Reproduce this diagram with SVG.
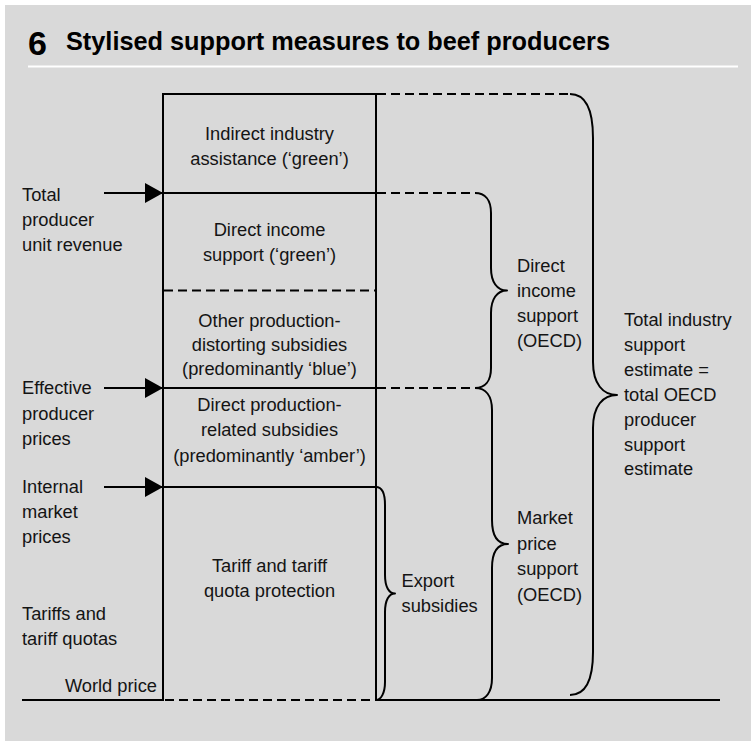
<svg xmlns="http://www.w3.org/2000/svg" width="751" height="741" viewBox="0 0 751 741">
  <style>
    .t { font-family: "Liberation Sans", Arial, sans-serif; font-size: 18.3px; fill: #141414; }
    .c { text-anchor: middle; }
    .ln { stroke: #000; stroke-width: 2; fill: none; }
    .dash { stroke: #000; stroke-width: 2; fill: none; stroke-dasharray: 9 5; }
    .brace { stroke: #000; stroke-width: 2; fill: none; stroke-linejoin: round; }
  </style>
  <defs>
    <marker id="head" markerWidth="18" markerHeight="20" refX="18" refY="10" orient="auto" markerUnits="userSpaceOnUse">
      <path d="M0,0 L18,10 L0,20 Z" fill="#000"/>
    </marker>
  </defs>

  <!-- panel background -->
  <rect x="5" y="5" width="746" height="736" fill="#d9d9d9"/>

  <!-- title -->
  <g id="title">
    <text x="28" y="55" font-family="Liberation Sans, Arial, sans-serif" font-weight="bold" font-size="34" fill="#000">6</text>
    <text x="66" y="49.5" font-family="Liberation Sans, Arial, sans-serif" font-weight="bold" font-size="25.3" fill="#000">Stylised support measures to beef producers</text>
    <line x1="28" y1="66.5" x2="738" y2="66.5" stroke="#fff" stroke-width="2"/>
  </g>

  <!-- stacked support column -->
  <g id="column">
    <line class="ln" x1="163" y1="93" x2="163" y2="701"/>
    <line class="ln" x1="376" y1="93" x2="376" y2="701"/>
    <line class="ln" x1="162" y1="94" x2="377" y2="94"/>
    <line class="ln" x1="163" y1="193" x2="376" y2="193"/>
    <line class="dash" x1="164" y1="290.5" x2="376" y2="290.5"/>
    <line class="ln" x1="163" y1="388" x2="376" y2="388"/>
    <line class="ln" x1="163" y1="487" x2="376" y2="487"/>
  </g>

  <g id="block-indirect">
    <text class="t c" x="269.5" y="139.5">Indirect industry</text>
    <text class="t c" x="269.5" y="164.5">assistance (‘green’)</text>
  </g>
  <g id="block-direct-income">
    <text class="t c" x="269.5" y="236">Direct income</text>
    <text class="t c" x="269.5" y="261">support (‘green’)</text>
  </g>
  <g id="block-other">
    <text class="t c" x="269.5" y="326.5">Other production-</text>
    <text class="t c" x="269.5" y="350.5">distorting subsidies</text>
    <text class="t c" x="269.5" y="374.5">(predominantly ‘blue’)</text>
  </g>
  <g id="block-direct-production">
    <text class="t c" x="269.5" y="410.5">Direct production-</text>
    <text class="t c" x="269.5" y="436">related subsidies</text>
    <text class="t c" x="269.5" y="461.5">(predominantly ‘amber’)</text>
  </g>
  <g id="block-tariff">
    <text class="t c" x="269.5" y="572">Tariff and tariff</text>
    <text class="t c" x="269.5" y="597">quota protection</text>
  </g>

  <!-- price levels on the left -->
  <g id="label-total-revenue">
    <text class="t" x="22" y="200.5">Total</text>
    <text class="t" x="22" y="225.5">producer</text>
    <text class="t" x="22" y="250.5">unit revenue</text>
  </g>
  <g id="label-effective">
    <text class="t" x="22" y="394">Effective</text>
    <text class="t" x="22" y="419.5">producer</text>
    <text class="t" x="22" y="445">prices</text>
  </g>
  <g id="label-internal">
    <text class="t" x="22" y="492.5">Internal</text>
    <text class="t" x="22" y="517.5">market</text>
    <text class="t" x="22" y="542.5">prices</text>
  </g>
  <g id="label-tariffs">
    <text class="t" x="22" y="619.5">Tariffs and</text>
    <text class="t" x="22" y="645">tariff quotas</text>
  </g>
  <g id="label-world">
    <text class="t" x="157" y="692" text-anchor="end">World price</text>
  </g>

  <!-- right-hand aggregates -->
  <g id="label-direct-oecd">
    <text class="t" x="517" y="272">Direct</text>
    <text class="t" x="517" y="297">income</text>
    <text class="t" x="517" y="322">support</text>
    <text class="t" x="517" y="347">(OECD)</text>
  </g>
  <g id="label-market-oecd">
    <text class="t" x="517" y="524">Market</text>
    <text class="t" x="517" y="549.5">price</text>
    <text class="t" x="517" y="575">support</text>
    <text class="t" x="517" y="600.5">(OECD)</text>
  </g>
  <g id="label-export">
    <text class="t" x="401.5" y="587">Export</text>
    <text class="t" x="401.5" y="612">subsidies</text>
  </g>
  <g id="label-total-oecd">
    <text class="t" x="624" y="326">Total industry</text>
    <text class="t" x="624" y="351">support</text>
    <text class="t" x="624" y="376">estimate =</text>
    <text class="t" x="624" y="401">total OECD</text>
    <text class="t" x="624" y="425.5">producer</text>
    <text class="t" x="624" y="450.5">support</text>
    <text class="t" x="624" y="475">estimate</text>
  </g>

  <!-- connectors: arrows, leader lines, braces, baseline -->
  <g id="connectors">
    <line class="ln" x1="104" y1="193" x2="163" y2="193" marker-end="url(#head)"/>
    <line class="ln" x1="104" y1="388" x2="163" y2="388" marker-end="url(#head)"/>
    <line class="ln" x1="104" y1="487" x2="163" y2="487" marker-end="url(#head)"/>

    <line class="dash" x1="377" y1="94" x2="570" y2="94"/>
    <line class="dash" x1="377" y1="193" x2="475" y2="193"/>
    <line class="dash" x1="377" y1="388" x2="475" y2="388"/>

    <path class="brace" d="M570,94 C586,94 593,110 593,138 L593,362 C593,384 603,395 617,395 C603,395 593,406 593,428 L593,652 C593,680 586,695 570,695"/>
    <path class="brace" d="M475,193 C485,193 491,200 491,213 L491,268 C491,282 497,290.5 507,290.5 C497,290.5 491,299 491,313 L491,368 C491,381 485,388 475,388"/>
    <path class="brace" d="M475,388 C486,388 492,396 492,410 L492,520 C492,536 498,544 508,544 C498,544 492,552 492,568 L492,678 C492,692 486,700 477,700"/>
    <path class="brace" d="M376,487 C382,487 385,494 385,505 L385,575 C385,587 389,593.5 395,593.5 C389,593.5 385,600 385,612 L385,682 C385,693 381,700 376,700"/>

    <line class="ln" x1="22" y1="700" x2="163" y2="700"/>
    <line class="dash" x1="165" y1="700" x2="376" y2="700"/>
    <line class="ln" x1="376" y1="700" x2="720" y2="700"/>
  </g>
</svg>
